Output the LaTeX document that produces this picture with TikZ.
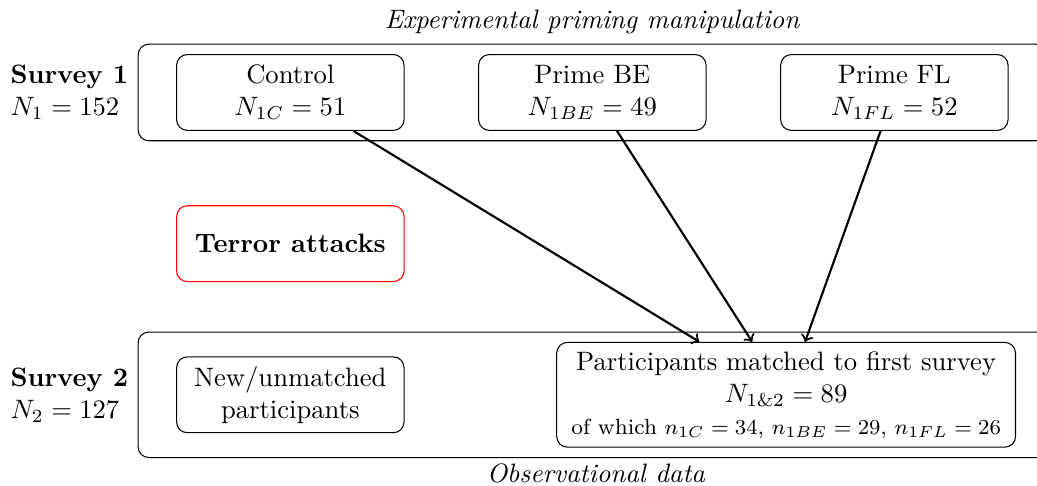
\documentclass[tikz,border=0pt]{standalone}
\usetikzlibrary{positioning,fit}
\begin{document}
\begin{tikzpicture}[
                group/.style={draw,rounded corners,minimum width=3cm,minimum height=1cm,align=center},
                frame/.style={draw,rounded corners,inner xsep=0.5cm,inner ysep=0.13cm}]
                \useasboundingbox (0,0) rectangle (13.68,-6.41);
                \node[group] (control) at (3.83,-1.22) {Control\\$N_{1C}=51$};
                \node[group,right=0.97cm of control] (primebe) {Prime BE\\$N_{1BE}=49$};
                \node[group,right=0.97cm of primebe] (primefl) {Prime FL\\$N_{1FL}=52$};
                \node[group,draw=red,below=0.98cm of control] (terror) {\textbf{Terror attacks}};
                \node[group,below=0.98cm of terror] (new) {New/unmatched\\participants};
                \node[group,right=2cm of new,inner xsep=5.5pt] (matched) {Participants matched to first survey\\$N_{1\&2}=89$\\{\fontsize{8.25}{9.5}\selectfont of which $n_{1C}=34$, $n_{1BE}=29$, $n_{1FL}=26$}};
                \node[frame,fit=(control)(primefl)] (survey1) {};
                \node[frame,fit=(new)(matched)] (survey2) {};
                \node[left=0pt of survey1,align=left] (s1label) {\textbf{Survey 1}\\$N_1=152$};
                \node[left=0pt of survey2,align=left] (s2label) {\textbf{Survey 2}\\$N_2=127$};
                \node[above=0pt of survey1] (prime) {\textit{Experimental priming manipulation}};
                \node[below=2pt of survey2,inner sep=0pt] (obs) {\textit{Observational data}};
                \draw[thick,->] (control) -- (matched);
                \draw[thick,->] (primebe) -- (matched);
                \draw[thick,->] (primefl) -- (matched);
            \end{tikzpicture}
\end{document}
